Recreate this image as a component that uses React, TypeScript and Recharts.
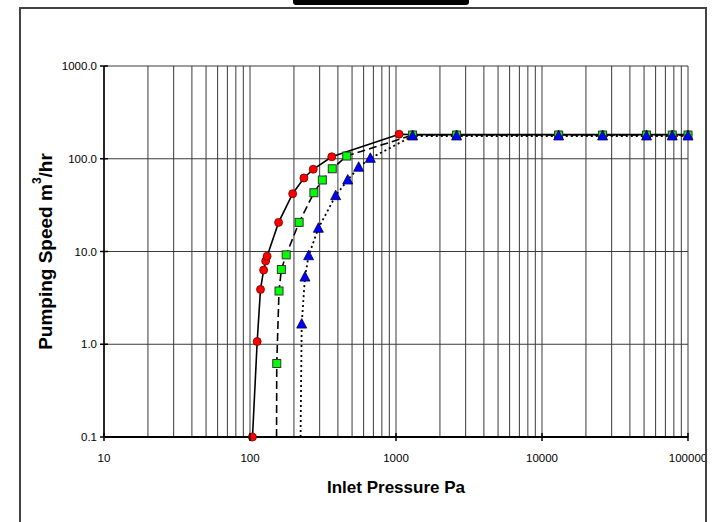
import React from 'react';
import { LineChart, Line, XAxis, YAxis, CartesianGrid, Label } from 'recharts';

// inlet pressure (Pa) vs pumping speed (m3/hr), three curves
const redPressure = [104, 112, 118, 124, 128, 131, 157, 196, 234, 271, 363, 1050, 1300, 2600, 13000, 26000, 52000, 78000, 100000];
const redSpeed = [0.1, 1.07, 3.9, 6.3, 7.9, 8.9, 20.6, 42, 62, 77, 105, 184, 182, 182, 182, 182, 182, 182, 182];

const greenPressure = [152, 152.5, 158, 164, 177, 217, 274, 313, 366, 460, 1300, 2600, 13000, 26000, 52000, 78000, 100000];
const greenSpeed = [0.1, 0.62, 3.75, 6.4, 9.2, 20.6, 43, 59, 78, 107, 180, 180, 180, 180, 180, 180, 180];

const bluePressure = [222, 226, 238, 252, 294, 386, 467, 555, 667, 1300, 2600, 13000, 26000, 52000, 78000, 100000];
const blueSpeed = [0.1, 1.65, 5.3, 9, 17.8, 40, 59, 81, 101, 176, 176, 176, 176, 176, 176, 176];

// green and blue curves start at the axis without a marker
const footPoints = { red: 0, green: 1, blue: 1 };

const decades = [10, 100, 1000, 10000, 100000];
const steps = [1, 2, 3, 4, 5, 6, 7, 8, 9];
const xTicks = [...decades.slice(0, -1).flatMap((d) => steps.map((s) => d * s)), 100000];
const yTicks = [0.1, 1, 10, 100, 1000];

const build = (xs: number[], ys: number[], foot: number) =>
  xs.map((p, i) => ({ pressure: p, speed: ys[i], marker: i >= foot }));

const redData = build(redPressure, redSpeed, footPoints.red);
const greenData = build(greenPressure, greenSpeed, footPoints.green);
const blueData = build(bluePressure, blueSpeed, footPoints.blue);

const FONT = '"Liberation Sans", Arial, sans-serif';

const RedDot = (p: any) =>
  p.payload.marker ? (
    <circle key={`r-${p.index}`} cx={p.cx} cy={p.cy} r={4} fill="#ff0000" stroke="#700000" strokeWidth={0.8} />
  ) : (
    <g key={`r-${p.index}`} />
  );

const GreenDot = (p: any) =>
  p.payload.marker ? (
    <rect key={`g-${p.index}`} x={p.cx - 4} y={p.cy - 4} width={8} height={8} fill="#00ff00" stroke="#333" strokeWidth={1} />
  ) : (
    <g key={`g-${p.index}`} />
  );

const BlueDot = (p: any) =>
  p.payload.marker ? (
    <polygon
      key={`b-${p.index}`}
      points={`${p.cx},${p.cy - 5.5} ${p.cx - 5},${p.cy + 4} ${p.cx + 5},${p.cy + 4}`}
      fill="#0000ff"
      stroke="#000040"
      strokeWidth={0.8}
    />
  ) : (
    <g key={`b-${p.index}`} />
  );

const XTick = ({ x, y, payload }: any) => {
  if (!decades.includes(payload.value)) return <g />;
  return (
    <g>
      <line x1={x} x2={x} y1={y - 4} y2={y + 4} stroke="#000" strokeWidth={1.5} />
      <text x={x} y={y + 25} textAnchor="middle" fontSize={11.5} fontWeight="normal" fontFamily={FONT} fill="#000">
        {String(payload.value)}
      </text>
    </g>
  );
};

const YTick = ({ x, y, payload }: any) => (
  <g>
    <line x1={x - 4} x2={x + 4} y1={y} y2={y} stroke="#000" strokeWidth={1.5} />
    <text x={x - 7} y={y + 4} textAnchor="end" fontSize={11.5} fontWeight="normal" fontFamily={FONT} fill="#000">
      {payload.value.toFixed(1)}
    </text>
  </g>
);

export default function App() {
  return (
    <div style={{ position: 'absolute', left: 0, top: 0, width: 712, height: 522, overflow: 'hidden', background: '#fff' }}>
      <div style={{ position: 'absolute', left: 293, top: 0, width: 176, height: 5, background: '#000', borderRadius: '0 0 3px 3px' }} />
      <div style={{ position: 'absolute', left: 0, top: 0 }}>
        <LineChart width={712} height={522} margin={{ top: 66, right: 24, left: 20, bottom: 15 }}>
          <CartesianGrid stroke="#3a3a3a" strokeWidth={1} />
          <XAxis
            dataKey="pressure"
            type="number"
            scale="log"
            domain={[10, 100000]}
            ticks={xTicks}
            interval={0}
            tick={<XTick />}
            tickLine={false}
            tickSize={0}
            tickMargin={0}
            axisLine={{ stroke: '#000', strokeWidth: 2 }}
            height={70}
          >
            <Label
              content={({ viewBox }: any) => (
                <text
                  x={viewBox.x + viewBox.width / 2}
                  y={viewBox.y + 56}
                  textAnchor="middle"
                  fontSize={17}
                  fontWeight="bold"
                  fontFamily={FONT}
                  fill="#000"
                >
                  Inlet Pressure Pa
                </text>
              )}
            />
          </XAxis>
          <YAxis
            type="number"
            scale="log"
            domain={[0.1, 1000]}
            ticks={yTicks}
            interval={0}
            tick={<YTick />}
            tickLine={false}
            tickSize={0}
            tickMargin={0}
            axisLine={{ stroke: '#000', strokeWidth: 1.5 }}
            width={84}
          >
            <Label
              content={({ viewBox }: any) => {
                const cx = viewBox.x + 25;
                const cy = viewBox.y + viewBox.height / 2;
                return (
                  <text
                    x={cx}
                    y={cy}
                    transform={`rotate(-90 ${cx} ${cy})`}
                    textAnchor="middle"
                    dominantBaseline="central"
                    fontSize={19}
                    fontWeight="bold"
                    fontFamily={FONT}
                    fill="#000"
                  >
                    Pumping Speed m<tspan fontSize={12} dy={-8}>3</tspan>
                    <tspan dy={8}>/hr</tspan>
                  </text>
                );
              }}
            />
          </YAxis>
          <Line
            data={redData}
            dataKey="speed"
            stroke="#000"
            strokeWidth={1.6}
            dot={RedDot}
            activeDot={false}
            isAnimationActive={false}
          />
          <Line
            data={greenData}
            dataKey="speed"
            stroke="#000"
            strokeWidth={1.6}
            strokeDasharray="8 4"
            dot={GreenDot}
            activeDot={false}
            isAnimationActive={false}
          />
          <Line
            data={blueData}
            dataKey="speed"
            stroke="#000"
            strokeWidth={1.8}
            strokeDasharray="2 3"
            dot={BlueDot}
            activeDot={false}
            isAnimationActive={false}
          />
        </LineChart>
      </div>
      <div
        style={{
          position: 'absolute',
          left: 19,
          top: 7,
          width: 684,
          height: 520,
          border: '2px solid #444',
          borderBottom: 'none',
          pointerEvents: 'none',
        }}
      />
    </div>
  );
}
